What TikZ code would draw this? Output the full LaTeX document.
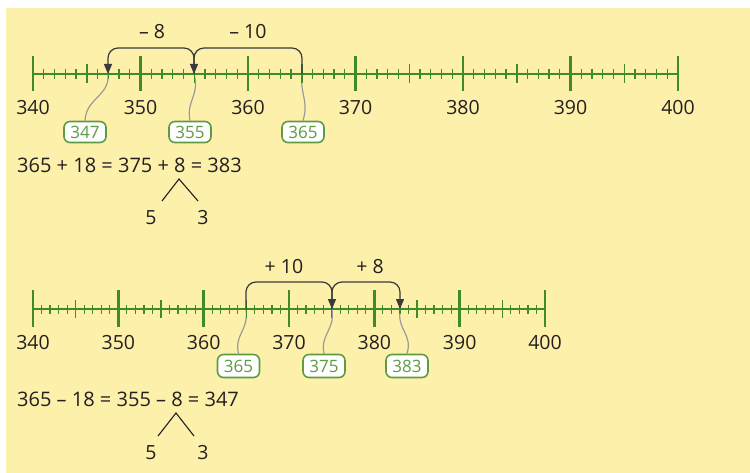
\documentclass[tikz,border=0pt]{standalone}
\usepackage{fontspec}
\setmainfont{Open Sans}
\usetikzlibrary{arrows.meta}
\definecolor{bg}{HTML}{FDF0AA}
\definecolor{axisgreen}{HTML}{3F8B2A}
\definecolor{boxgreen}{HTML}{5E9B42}
\definecolor{txt}{HTML}{231F20}
\definecolor{jumpgrey}{HTML}{3A3A3A}
\definecolor{wavegrey}{HTML}{9A9A9A}
\begin{document}
\begin{tikzpicture}[x=1pt,y=-1pt,
  axisline/.style={draw=axisgreen,line width=2.4pt},
  majortick/.style={draw=axisgreen,line width=2.8pt},
  midtick/.style={draw=axisgreen,line width=1.5pt},
  minortick/.style={draw=axisgreen,line width=1.2pt},
  ticklab/.style={text=txt,font=\fontsize{19.5}{19.5}\selectfont,inner sep=0pt},
  eqn/.style={text=txt,font=\fontsize{20}{20}\selectfont,inner sep=0pt,anchor=west},
  jumplab/.style={text=txt,font=\fontsize{19.5}{19.5}\selectfont,inner sep=0pt},
  jump/.style={draw=jumpgrey,line width=1.2pt,rounded corners=10pt,-{Triangle[length=10pt,width=8pt]}},
  wave/.style={draw=wavegrey,line width=1.2pt},
  callout/.style={draw=boxgreen,fill=white,rounded corners=6pt,line width=1.6pt,minimum width=42pt,minimum height=21pt,inner sep=0pt,text=boxgreen,font=\fontsize{17}{17}\selectfont},
  treeline/.style={draw=txt,line width=1.1pt}
]
\useasboundingbox (0,0) rectangle (750,473);
\fill[bg] (6,8) rectangle (750,473);

% ---------- top number line ----------
\coordinate (a347) at (108,74);
\coordinate (a355) at (194,74);
\coordinate (a365) at (302,74);
\node[callout] (b347) at (85,132) {347};
\node[callout] (b355) at (190,132) {355};
\node[callout] (b365) at (303,132) {365};
\draw[wave] (a347) .. controls (110,96) and (86,98) .. (b347.north);
\draw[wave] (a355) .. controls (200,96) and (186,100) .. (b355.north);
\draw[wave] (a365) .. controls (300,96) and (309,100) .. (b365.north);

\draw[axisline] (33,74) -- (678,74);
\foreach \i in {0,...,60}{
  \pgfmathsetmacro\xx{33+\i*10.75}
  \pgfmathtruncatemacro\m{mod(\i,10)}
  \pgfmathtruncatemacro\f{mod(\i,5)}
  \ifnum\m=0 \draw[majortick] (\xx,56.5) -- (\xx,91.5);
  \else\ifnum\f=0 \draw[midtick] (\xx,64.5) -- (\xx,83.5);
  \else \draw[minortick] (\xx,69) -- (\xx,79);\fi\fi
}
\foreach \v in {340,350,...,400}{
  \node[ticklab] (tl\v) at ({33+(\v-340)*10.75},108) {\v};
}
\draw[jump] (a365) -- ++(0,-26) -| (a355);
\draw[jump] (a355) -- ++(0,-26) -| (a347);
\node[jumplab] (jm8) at (152,32) {– 8};
\node[jumplab] (jm10) at (248,32) {– 10};

\node[eqn] (eq1) at (17,165) {365 + 18 = 375 + 8 = 383};
\coordinate (ap1) at (179,179);
\node[ticklab] (f1) at (151,218) {5};
\node[ticklab] (t1) at (203,218) {3};
\draw[treeline] (162,201) -- (ap1) -- (198,201);

% ---------- bottom number line ----------
\coordinate (c365) at (246,309);
\coordinate (c375) at (332,309);
\coordinate (c383) at (400,309);
\node[callout,minimum height=23pt] (d365) at (238.5,366) {365};
\node[callout,minimum height=23pt] (d375) at (324,366) {375};
\node[callout,minimum height=23pt] (d383) at (407,366) {383};
\draw[wave] (c365) .. controls (249,331) and (234,334) .. (d365.north);
\draw[wave] (c375) .. controls (335,331) and (320,334) .. (d375.north);
\draw[wave] (c383) .. controls (397,331) and (413,334) .. (d383.north);

\draw[axisline] (33,309) -- (545,309);
\foreach \i in {0,...,60}{
  \pgfmathsetmacro\xx{33+\i*8.5333}
  \pgfmathtruncatemacro\m{mod(\i,10)}
  \pgfmathtruncatemacro\f{mod(\i,5)}
  \ifnum\m=0 \draw[majortick] (\xx,290) -- (\xx,327);
  \else\ifnum\f=0 \draw[midtick] (\xx,300) -- (\xx,318);
  \else \draw[minortick] (\xx,304.5) -- (\xx,313.5);\fi\fi
}
\foreach \v in {340,350,...,400}{
  \node[ticklab] (bl\v) at ({33+(\v-340)*8.5333},343) {\v};
}
\draw[jump] (c365) -- ++(0,-27) -| (c375);
\draw[jump] (c375) -- ++(0,-27) -| (c383);
\node[jumplab] (jp10) at (284,267) {+ 10};
\node[jumplab] (jp8) at (370,267) {+ 8};

\node[eqn] (eq2) at (17,399) {365 – 18 = 355 – 8 = 347};
\coordinate (ap2) at (176,413);
\node[ticklab] (f2) at (151,453) {5};
\node[ticklab] (t2) at (203,453) {3};
\draw[treeline] (158,436) -- (ap2) -- (194,436);
\end{tikzpicture}
\end{document}
